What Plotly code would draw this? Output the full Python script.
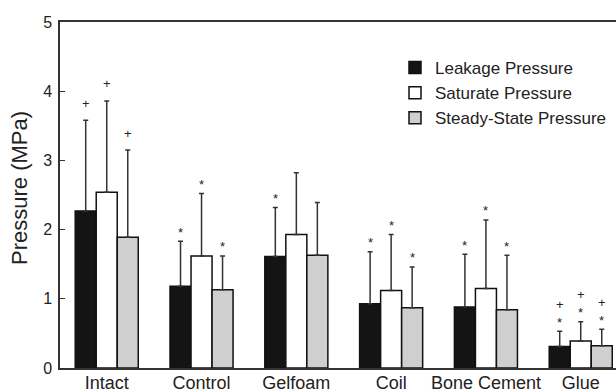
import plotly.graph_objects as go

categories = ["Intact", "Control", "Gelfoam", "Coil", "Bone Cement", "Glue"]
series_names = ["Leakage Pressure", "Saturate Pressure", "Steady-State Pressure"]

leakage = [2.27, 1.18, 1.61, 0.93, 0.88, 0.31]
saturate = [2.54, 1.62, 1.93, 1.12, 1.15, 0.39]
steady = [1.89, 1.13, 1.63, 0.87, 0.84, 0.32]

leakage_top = [3.58, 1.83, 2.32, 1.68, 1.645, 0.53]
saturate_top = [3.86, 2.52, 2.82, 1.93, 2.14, 0.67]
steady_top = [3.15, 1.62, 2.39, 1.46, 1.63, 0.56]

# significance marks: "+" , "*" , "+*" (plus above star), "" none
leakage_marks = ["+", "*", "*", "*", "*", "+*"]
saturate_marks = ["+", "*", "", "*", "*", "+*"]
steady_marks = ["+", "*", "", "*", "*", "+*"]

y_ticks = [0, 1, 2, 3, 4, 5]
y_title = "Pressure (MPa)"

colors = ["#141414", "#ffffff", "#cfcfcf"]
values = [leakage, saturate, steady]
tops = [leakage_top, saturate_top, steady_top]
marks = [leakage_marks, saturate_marks, steady_marks]

FONT = "Liberation Sans, Arial, sans-serif"
bargap = 0.335
bar_w = (1 - bargap) / 3

fig = go.Figure()
xs = list(range(len(categories)))
for j in range(3):
    fig.add_trace(go.Bar(
        name=series_names[j],
        x=xs,
        y=values[j],
        marker=dict(color=colors[j], line=dict(color="#111111", width=1.5)),
        error_y=dict(type="data", symmetric=False,
                     array=[t - v for t, v in zip(tops[j], values[j])],
                     arrayminus=[0] * len(values[j]),
                     color="#333333", thickness=1.5, width=2.5),
        hoverinfo="skip",
    ))

annotations = []
for j in range(3):
    for i in range(len(categories)):
        m = marks[j][i]
        if not m:
            continue
        x = i + (j - 1) * bar_w
        y = tops[j][i]
        has_star = "*" in m
        if has_star:
            annotations.append(dict(x=x, y=y, xref="x", yref="y", text="*",
                                    showarrow=False, yanchor="middle", yshift=9,
                                    font=dict(family=FONT, size=13, color="#222222")))
        if "+" in m:
            annotations.append(dict(x=x, y=y, xref="x", yref="y", text="+",
                                    showarrow=False, yanchor="middle",
                                    yshift=27 if has_star else 17,
                                    font=dict(family=FONT, size=13, color="#222222")))

annotations.append(dict(text=y_title, xref="paper", yref="paper",
                        x=(19 - 60) / 556, y=(368 - 188) / 346,
                        xanchor="center", yanchor="middle", textangle=-90,
                        showarrow=False,
                        font=dict(family=FONT, size=22, color="#222222")))

fig.update_layout(
    width=616, height=392,
    margin=dict(l=60, r=0, t=22, b=24),
    paper_bgcolor="white", plot_bgcolor="white",
    barmode="group", bargap=bargap, bargroupgap=0,
    font=dict(family=FONT, color="#222222"),
    showlegend=True,
    legend=dict(x=(395 - 60) / 556, y=(368 - 50) / 346, xanchor="left", yanchor="top",
                font=dict(family=FONT, size=17, color="#222222"),
                bgcolor="rgba(0,0,0,0)", tracegroupgap=0, itemwidth=30),
    annotations=annotations,
)
fig.update_xaxes(
    range=[-0.493, 5.372],
    tickmode="array", tickvals=xs, ticktext=categories,
    ticks="", showgrid=False, zeroline=False, automargin=False,
    ticklabelstandoff=-2,
    showline=True, linecolor="#333333", linewidth=1.5, mirror=True,
    tickfont=dict(family=FONT, size=18, color="#222222"),
)
fig.update_yaxes(
    range=[0, 5], tickvals=y_ticks, automargin=False,
    ticks="inside", ticklen=5, tickcolor="#333333", tickwidth=1,
    ticklabelstandoff=3,
    showgrid=False, zeroline=False,
    showline=True, linecolor="#333333", linewidth=1.5,
    tickfont=dict(family=FONT, size=16, color="#222222"),
)
fig.write_html("out.html", post_script="document.body.style.margin='0';",
               config={"displayModeBar": False})
